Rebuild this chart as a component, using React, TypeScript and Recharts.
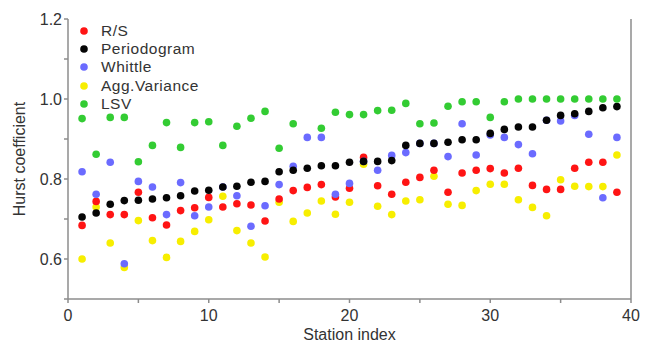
import { ScatterChart, Scatter, XAxis, YAxis, Legend, ReferenceLine } from "recharts";

const stations = [1, 2, 3, 4, 5, 6, 7, 8, 9, 10, 11, 12, 13, 14, 15, 16, 17, 18, 19, 20, 21, 22, 23, 24, 25, 26, 27, 28, 29, 30, 31, 32, 33, 34, 35, 36, 37, 38, 39];

const rs = [0.684, 0.744, 0.711, 0.711, 0.767, 0.703, 0.685, 0.721, 0.728, 0.754, 0.73, 0.738, 0.735, 0.695, 0.75, 0.771, 0.779, 0.786, 0.755, 0.777, 0.854, 0.783, 0.762, 0.792, 0.804, 0.822, 0.767, 0.815, 0.822, 0.826, 0.815, 0.827, 0.784, 0.774, 0.774, 0.827, 0.842, 0.842, 0.767];
const periodogram = [0.705, 0.715, 0.737, 0.746, 0.747, 0.75, 0.753, 0.758, 0.77, 0.772, 0.78, 0.782, 0.792, 0.794, 0.818, 0.822, 0.827, 0.833, 0.833, 0.842, 0.844, 0.844, 0.846, 0.884, 0.889, 0.889, 0.892, 0.898, 0.898, 0.914, 0.924, 0.93, 0.93, 0.947, 0.959, 0.963, 0.969, 0.978, 0.981];
const whittle = [0.818, 0.762, 0.842, 0.588, 0.794, 0.78, 0.711, 0.791, 0.708, 0.73, 0.78, 0.758, 0.682, 0.733, 0.786, 0.832, 0.904, 0.904, 0.762, 0.789, 0.844, 0.822, 0.859, 0.866, 0.889, 0.889, 0.856, 0.938, 0.86, 0.91, 0.904, 0.886, 0.863, 0.947, 0.945, 0.959, 0.912, 0.753, 0.904];
const aggVariance = [0.6, 0.73, 0.64, 0.579, 0.696, 0.646, 0.604, 0.644, 0.669, 0.698, 0.757, 0.671, 0.64, 0.605, 0.742, 0.694, 0.715, 0.745, 0.712, 0.742, 0.837, 0.732, 0.711, 0.745, 0.748, 0.807, 0.737, 0.734, 0.771, 0.787, 0.787, 0.748, 0.729, 0.708, 0.798, 0.782, 0.781, 0.781, 0.86];
const lsv = [0.951, 0.862, 0.954, 0.954, 0.843, 0.884, 0.941, 0.879, 0.941, 0.943, 0.884, 0.932, 0.952, 0.969, 0.877, 0.938, null, 0.927, 0.967, 0.961, 0.961, 0.971, 0.972, 0.989, 0.938, 0.94, 0.982, 0.993, 0.993, 0.954, 0.993, 1.0, 1.0, 1.0, 1.0, 1.0, 1.0, 1.0, 1.0];

const xTicks = [0, 5, 10, 15, 20, 25, 30, 35, 40];
const yTicks = [0.5, 0.6, 0.7, 0.8, 0.9, 1.0, 1.1, 1.2];

const series = [
  { name: "R/S", values: rs, color: "#ff1414" },
  { name: "Periodogram", values: periodogram, color: "#050505" },
  { name: "Whittle", values: whittle, color: "#6b6bff" },
  { name: "Agg.Variance", values: aggVariance, color: "#f7ee00" },
  { name: "LSV", values: lsv, color: "#33cc33" },
];

// drawing order so overlaps look like the original
const drawOrder = ["Agg.Variance", "R/S", "Whittle", "Periodogram", "LSV"];

const toPoints = (values: (number | null)[]) =>
  stations.map((x, i) => ({ x, y: values[i] })).filter((d) => d.y != null);

const axisColor = "#8c8c8c";
const textColor = "#333";

function LegendBox() {
  return (
    <div style={{ fontSize: 15.5, color: textColor, letterSpacing: 0.5 }}>
      {series.map((s) => (
        <div key={s.name} style={{ display: "flex", alignItems: "center", height: 18.4 }}>
          <svg width={8} height={8} style={{ marginRight: 13 }}>
            <circle cx={4} cy={4} r={3.8} fill={s.color} />
          </svg>
          <span>{s.name}</span>
        </div>
      ))}
    </div>
  );
}

export default function App() {
  return (
    <div style={{ width: 643, height: 336, fontFamily: "Arial, 'Liberation Sans', sans-serif" }}>
      <ScatterChart width={643} height={336} margin={{ top: 11, right: 20, bottom: 0, left: 0 }}>
        <XAxis
          type="number"
          dataKey="x"
          domain={[0, 40]}
          ticks={xTicks}
          tickFormatter={(v: number) => (v % 10 === 0 ? String(v) : "")}
          height={45}
          tickSize={4}
          tickMargin={7}
          stroke={axisColor}
          strokeWidth={1.5}
          tick={{ fill: textColor, fontSize: 16 }}
          label={{ value: "Station index", position: "insideBottom", offset: 4, fill: textColor, fontSize: 16 }}
        />
        <YAxis
          type="number"
          dataKey="y"
          domain={[0.5, 1.2]}
          ticks={yTicks}
          tickFormatter={(v: number) => {
            const k = Math.round(v * 10);
            return k % 2 === 0 && k > 5 ? (k / 10).toFixed(1) : "";
          }}
          width={60}
          tickSize={4}
          tickMargin={2}
          stroke={axisColor}
          strokeWidth={1.5}
          tick={{ fill: textColor, fontSize: 16 }}
          label={{
            value: "Hurst coefficient",
            angle: -90,
            position: "insideLeft",
            offset: 11,
            fill: textColor,
            fontSize: 16,
            style: { textAnchor: "middle" },
          }}
        />
        <ReferenceLine x={40} stroke={axisColor} strokeWidth={1.5} />
        {drawOrder.map((name) => {
          const s = series.find((d) => d.name === name)!;
          return (
            <Scatter
              key={s.name}
              name={s.name}
              data={toPoints(s.values)}
              fill={s.color}
              isAnimationActive={false}
              shape={(p: any) => <circle cx={p.cx} cy={p.cy} r={3.8} fill={s.color} />}
            />
          );
        })}
        <Legend
          layout="vertical"
          align="center"
          verticalAlign="middle"
          wrapperStyle={{ top: 13.5, left: 72, width: "auto", height: "auto" }}
          content={() => <LegendBox />}
        />
      </ScatterChart>
    </div>
  );
}
